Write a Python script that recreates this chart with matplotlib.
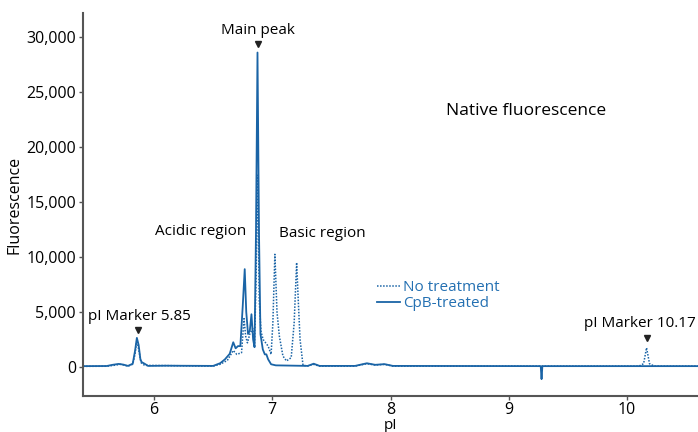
import numpy as np
import matplotlib
matplotlib.use('Agg')
import matplotlib.pyplot as plt
from matplotlib.ticker import FuncFormatter

plt.rcParams['font.family'] = ['Open Sans', 'DejaVu Sans']

# CpB-treated trace (pI, fluorescence)
cpb_pi = [5.40, 5.60, 5.65, 5.70, 5.74, 5.78, 5.82, 5.84, 5.855, 5.87, 5.885,
          5.895, 5.92, 5.95, 6.10, 6.50, 6.56, 6.60, 6.64, 6.67, 6.69, 6.71,
          6.73, 6.75, 6.767, 6.78, 6.795, 6.81, 6.824, 6.838, 6.85, 6.862,
          6.875, 6.888, 6.90, 6.92, 6.937, 6.95, 6.965, 6.99, 7.03, 7.30,
          7.35, 7.40, 7.70, 7.80, 7.87, 7.95, 8.02, 9.27, 9.277, 9.284, 10.60]
cpb_fl = [80, 90, 200, 280, 220, 100, 300, 1500, 2650, 2000, 700,
          450, 300, 100, 120, 100, 350, 700, 1200, 2250, 1700, 1900,
          1900, 5500, 8900, 5000, 3000, 3300, 4800, 2500, 1800, 12000,
          28600, 12000, 3000, 1600, 1150, 1150, 700, 250, 150, 100,
          300, 100, 100, 340, 200, 260, 100, 80, -1100, 80, 80]

# untreated trace (pI, fluorescence)
nt_pi = [5.40, 5.60, 5.66, 5.72, 5.78, 5.82, 5.84, 5.855, 5.87, 5.89, 5.92,
         6.50, 6.56, 6.62, 6.67, 6.70, 6.74, 6.761, 6.775, 6.79, 6.81, 6.835,
         6.85, 6.863, 6.877, 6.89, 6.905, 6.923, 6.965, 6.99, 7.005, 7.022,
         7.04, 7.06, 7.09, 7.12, 7.16, 7.185, 7.206, 7.22, 7.235, 7.26, 7.30,
         7.345, 7.40, 7.70, 7.80, 7.87, 7.95, 8.02, 10.10, 10.14, 10.165,
         10.19, 10.23, 10.60]
nt_fl = [60, 70, 150, 250, 80, 250, 1200, 2450, 1600, 400, 150,
         80, 250, 600, 1500, 1150, 1300, 4400, 2800, 2200, 3000, 3500,
         1900, 8000, 17450, 6000, 3200, 2500, 1900, 1150, 4000, 10250,
         5000, 2800, 1000, 550, 850, 4000, 9500, 6000, 2500, 150, 100,
         250, 80, 80, 300, 180, 240, 80, 80, 300, 1750, 300, 80, 80]

xticks = [6, 7, 8, 9, 10]
yticks = [0, 5000, 10000, 15000, 20000, 25000, 30000]

line_c = '#1a64a6'
spine_c = '#555555'

fig = plt.figure(figsize=(6.98, 4.32), dpi=100)
ax = fig.add_axes([0.119, 0.083, 0.881, 0.887])

ax.plot(nt_pi, nt_fl, color=line_c, lw=1.1, ls=(0, (1, 1)), label='No treatment')
ax.plot(cpb_pi, cpb_fl, color=line_c, lw=1.3, label='CpB-treated')

ax.set_xlim(5.4, 10.6)
ax.set_ylim(-2650, 32200)
ax.set_xticks(xticks)
ax.set_yticks(yticks)
ax.yaxis.set_major_formatter(FuncFormatter(lambda v, p: f'{int(v):,}'))
ax.tick_params(labelsize=11.5, length=3, color=spine_c, width=1, pad=2)
ax.tick_params(axis='x', pad=1.5)

for s in ['top', 'right']:
    ax.spines[s].set_visible(False)
for s in ['left', 'bottom']:
    ax.spines[s].set_color(spine_c)
    ax.spines[s].set_linewidth(1.5)

ax.set_ylabel('Fluorescence', fontsize=11.5, labelpad=3)
ax.set_xlabel('pI', fontsize=11, labelpad=-0.5)

# annotations
ax.text(6.878, 29900, 'Main peak', ha='center', va='bottom', fontsize=11)
ax.plot([6.877], [29350], marker='v', color='#222222', ms=5, ls='none')
ax.text(5.88, 3900, 'pI Marker 5.85', ha='center', va='bottom', fontsize=11)
ax.plot([5.862], [3400], marker='v', color='#222222', ms=5, ls='none')
ax.text(10.11, 3300, 'pI Marker 10.17', ha='center', va='bottom', fontsize=11)
ax.plot([10.17], [2650], marker='v', color='#222222', ms=5, ls='none')
ax.text(6.39, 12350, 'Acidic region', ha='center', va='center', fontsize=11)
ax.text(7.42, 12100, 'Basic region', ha='center', va='center', fontsize=11)
ax.text(9.15, 23300, 'Native fluorescence', ha='center', va='center', fontsize=12.5)

leg = ax.legend(loc='upper left', bbox_to_anchor=(0.468, 0.318), frameon=False,
                fontsize=11, handlelength=1.5, handletextpad=0.2,
                labelspacing=0.05, borderaxespad=0)
for t in leg.get_texts():
    t.set_color('#2470b2')

fig.savefig('out.png', dpi=100)
